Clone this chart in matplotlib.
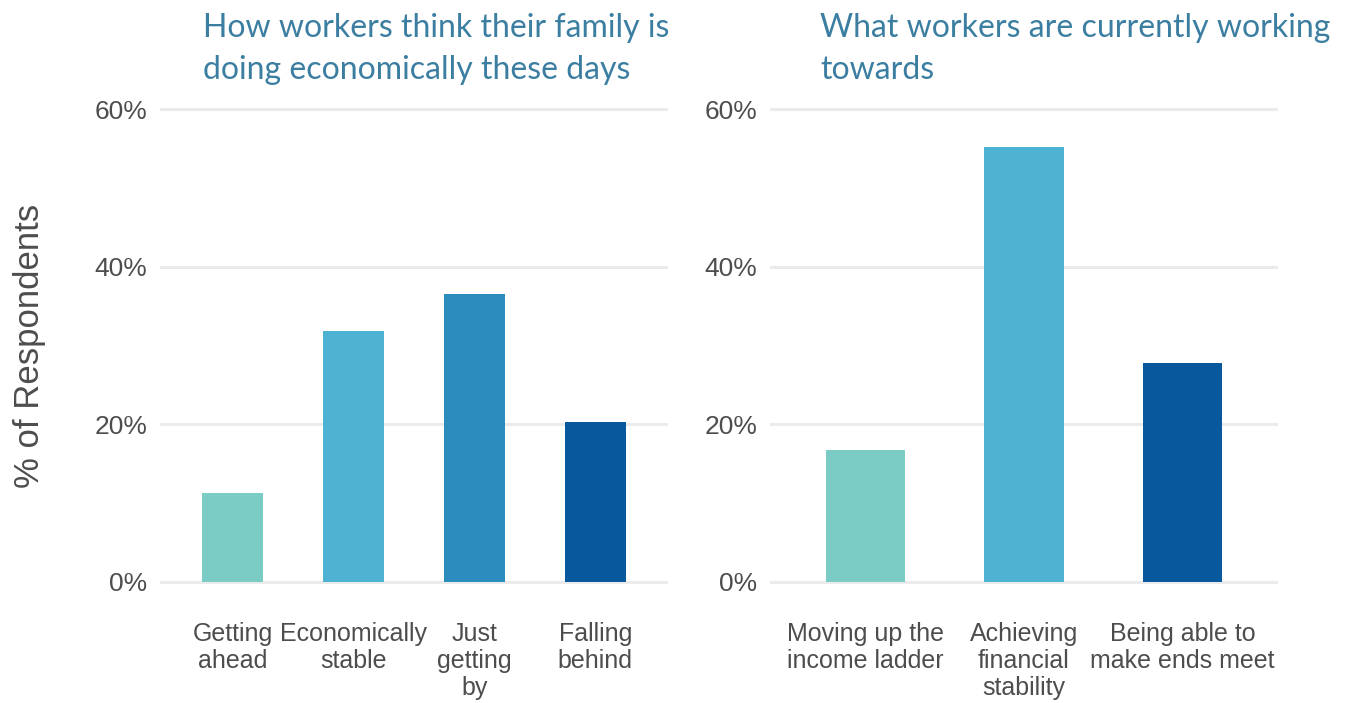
import matplotlib.pyplot as plt

# survey shares (% of respondents)
family_labels = ["Getting\nahead", "Economically\nstable", "Just\ngetting\nby", "Falling\nbehind"]
family_values = [11.3, 31.9, 36.5, 20.3]
family_colors = ["#7bccc4", "#4eb3d3", "#2b8cbe", "#08589e"]

goal_labels = ["Moving up the\nincome ladder", "Achieving\nfinancial\nstability", "Being able to\nmake ends meet"]
goal_values = [16.7, 55.2, 27.8]
goal_colors = ["#7bccc4", "#4eb3d3", "#08589e"]

y_ticks = [0, 20, 40, 60]
y_ticklabels = ["0%", "20%", "40%", "60%"]

title_color = "#3b7ea1"
text_color = "#4d4d4d"

fig = plt.figure(figsize=(13.48, 7.03), dpi=100)
W, H = 1348, 703

def panel(x0, labels, values, colors):
    ax = fig.add_axes([x0 / W, 1 - 593.8 / H, 508 / W, 496.6 / H])
    ax.bar(range(len(values)), values, width=0.5, color=colors, zorder=3)
    ax.set_xlim(-0.6, len(values) - 0.4)
    ax.set_ylim(-1.5, 61.5)
    ax.set_yticks(y_ticks)
    ax.set_yticklabels(y_ticklabels, fontsize=19, color=text_color, family="Liberation Sans")
    ax.set_xticks(range(len(values)))
    ax.set_xticklabels(labels, fontsize=18, color=text_color, family="Liberation Sans",
                       linespacing=1.18, va="top")
    ax.tick_params(axis="both", length=0)
    ax.tick_params(axis="x", pad=20)
    ax.tick_params(axis="y", pad=9)
    ax.grid(axis="y", color="#ebebeb", linewidth=2.2, zorder=0)
    for s in ax.spines.values():
        s.set_visible(False)
    return ax

ax1 = panel(160, family_labels, family_values, family_colors)
ax2 = panel(770, goal_labels, goal_values, goal_colors)

fig.text(203 / W, 1 - 13 / H, "How workers think their family is\ndoing economically these days",
         fontsize=23, color=title_color, family="Lato", va="top", ha="left", linespacing=1.5)
fig.text(820 / W, 1 - 13 / H, "What workers are currently working\ntowards",
         fontsize=23, color=title_color, family="Lato", va="top", ha="left", linespacing=1.5)

fig.text(30 / W, 1 - 346 / H, "% of Respondents", fontsize=25, color=text_color,
         family="Liberation Sans", rotation=90, va="center", ha="center")

fig.savefig("out.png", dpi=100, facecolor="white")
